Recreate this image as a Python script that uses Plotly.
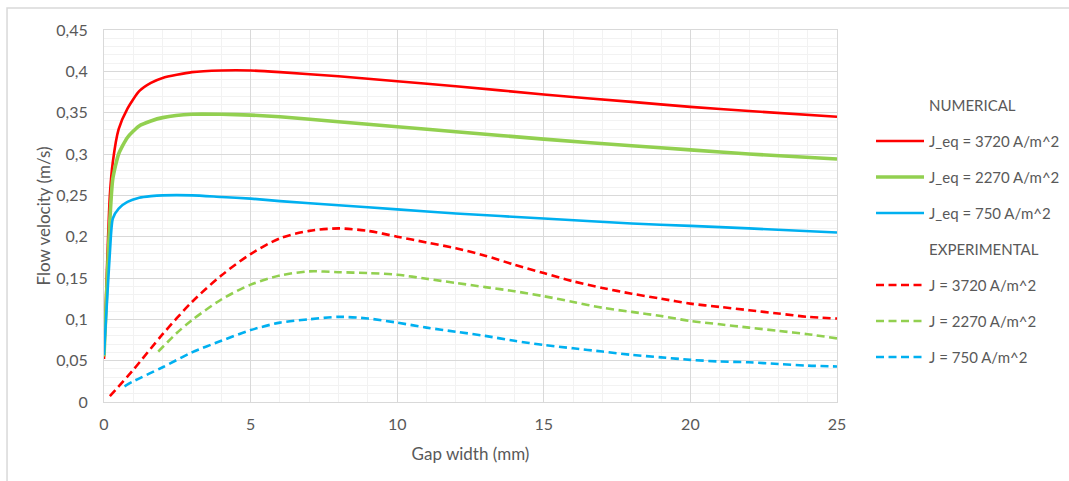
import plotly.graph_objects as go

# ---- numerical results (gap width in mm, velocity in m/s) ----
num_x = [0, 0.1, 0.2, 0.3, 0.5, 0.8, 1.2, 1.6, 2, 3, 4, 5, 6, 8, 10, 12, 15, 18, 20, 22, 25]
num_3720 = [0.052, 0.16, 0.25, 0.29, 0.33, 0.355, 0.376, 0.386, 0.392, 0.399, 0.401, 0.401, 0.399, 0.394, 0.388, 0.382, 0.372, 0.363, 0.357, 0.352, 0.345]
num_2270 = [0.055, 0.14, 0.22, 0.27, 0.30, 0.32, 0.334, 0.34, 0.344, 0.348, 0.348, 0.347, 0.345, 0.339, 0.333, 0.327, 0.318, 0.310, 0.305, 0.300, 0.294]
num_750 = [0.057, 0.12, 0.18, 0.222, 0.234, 0.242, 0.247, 0.249, 0.25, 0.25, 0.248, 0.246, 0.243, 0.238, 0.233, 0.228, 0.222, 0.216, 0.213, 0.210, 0.205]

# ---- experimental measurements ----
exp_x_3720 = [0.2, 1, 2, 3, 4, 5, 6, 7, 8, 9, 10, 11, 12, 13, 14, 15, 16, 17, 18, 19, 20, 21, 22, 23, 24, 25]
exp_3720 = [0.007, 0.039, 0.082, 0.121, 0.153, 0.179, 0.198, 0.207, 0.210, 0.207, 0.200, 0.193, 0.186, 0.177, 0.166, 0.156, 0.146, 0.138, 0.131, 0.125, 0.119, 0.115, 0.111, 0.107, 0.103, 0.101]

exp_x_2270 = [1.85, 2.5, 3, 4, 5, 6, 7, 8, 9, 10, 11, 12, 13, 14, 15, 16, 17, 18, 19, 20, 21, 22, 23, 24, 25]
exp_2270 = [0.061, 0.084, 0.099, 0.124, 0.142, 0.153, 0.158, 0.157, 0.156, 0.154, 0.149, 0.144, 0.139, 0.134, 0.128, 0.121, 0.114, 0.109, 0.104, 0.098, 0.094, 0.090, 0.086, 0.082, 0.077]

exp_x_750 = [0.7, 1, 2, 3, 4, 5, 6, 7, 8, 9, 10, 11, 12, 13, 14, 15, 16, 17, 18, 19, 20, 21, 22, 23, 24, 25]
exp_750 = [0.019, 0.025, 0.042, 0.060, 0.074, 0.087, 0.096, 0.100, 0.103, 0.101, 0.096, 0.090, 0.085, 0.080, 0.074, 0.069, 0.065, 0.061, 0.057, 0.054, 0.051, 0.049, 0.048, 0.046, 0.044, 0.043]

# ---- axis ticks ----
x_ticks = [0, 5, 10, 15, 20, 25]
x_tick_text = ["0", "5", "10", "15", "20", "25"]
y_ticks = [0, 0.05, 0.1, 0.15, 0.2, 0.25, 0.3, 0.35, 0.4, 0.45]
y_tick_text = ["0", "0,05", "0,1", "0,15", "0,2", "0,25", "0,3", "0,35", "0,4", "0,45"]

RED = "#FF0000"
GREEN = "#92D050"
BLUE = "#00B0F0"
TEXT = "#595959"
FONT = "Lato, 'Open Sans', sans-serif"

fig = go.Figure()

def header(name, group):
    fig.add_trace(go.Scatter(x=[None], y=[None], mode="lines", name=name,
                             line=dict(width=0, color="rgba(0,0,0,0)"),
                             legendgroup=group, hoverinfo="skip"))

header("NUMERICAL", "h1")
fig.add_trace(go.Scatter(x=num_x, y=num_3720, mode="lines", name="J_eq = 3720 A/m^2",
                         line=dict(color=RED, width=2.6, shape="spline", smoothing=0.6),
                         legendgroup="n1"))
fig.add_trace(go.Scatter(x=num_x, y=num_2270, mode="lines", name="J_eq = 2270 A/m^2",
                         line=dict(color=GREEN, width=3.6, shape="spline", smoothing=0.6),
                         legendgroup="n2"))
fig.add_trace(go.Scatter(x=num_x, y=num_750, mode="lines", name="J_eq = 750 A/m^2",
                         line=dict(color=BLUE, width=2.6, shape="spline", smoothing=0.6),
                         legendgroup="n3"))
header("EXPERIMENTAL", "h2")
fig.add_trace(go.Scatter(x=exp_x_3720, y=exp_3720, mode="lines", name="J = 3720 A/m^2",
                         line=dict(color=RED, width=2.6, dash="8px,4.5px", shape="spline", smoothing=0.8),
                         legendgroup="e1"))
fig.add_trace(go.Scatter(x=exp_x_2270, y=exp_2270, mode="lines", name="J = 2270 A/m^2",
                         line=dict(color=GREEN, width=2.6, dash="8px,4.5px", shape="spline", smoothing=0.8),
                         legendgroup="e2"))
fig.add_trace(go.Scatter(x=exp_x_750, y=exp_750, mode="lines", name="J = 750 A/m^2",
                         line=dict(color=BLUE, width=2.6, dash="8px,4.5px", shape="spline", smoothing=0.8),
                         legendgroup="e3"))

axis_common = dict(
    showgrid=True, gridcolor="#D9D9D9", gridwidth=1,
    showline=True, linecolor="#D9D9D9", linewidth=1, mirror=True,
    zeroline=False, ticks="",
    tickfont=dict(family=FONT, size=16, color=TEXT),
)

fig.update_layout(
    width=1069, height=481,
    margin=dict(l=104, r=232, t=30, b=79, autoexpand=False),
    paper_bgcolor="white", plot_bgcolor="white",
    font=dict(family=FONT, size=16, color=TEXT),
    xaxis=dict(range=[0, 25], tickvals=x_ticks, ticktext=x_tick_text,
               ticklabelstandoff=8,
               minor=dict(dtick=1, showgrid=True, gridcolor="#F2F2F2", gridwidth=1),
               title=dict(text="Gap width (mm)", font=dict(family=FONT, size=17, color=TEXT), standoff=15),
               **axis_common),
    yaxis=dict(range=[0, 0.45], tickvals=y_ticks, ticktext=y_tick_text,
               ticklabelstandoff=12,
               minor=dict(dtick=0.01, showgrid=True, gridcolor="#F2F2F2", gridwidth=1),
               title=dict(text="Flow velocity (m/s)", font=dict(family=FONT, size=17, color=TEXT), standoff=1),
               **axis_common),
    showlegend=True,
    legend=dict(x=1.0464, xanchor="left", y=0.842, yanchor="top",
                itemwidth=48,
                font=dict(family=FONT, size=15, color=TEXT),
                tracegroupgap=13.5, bgcolor="rgba(0,0,0,0)", borderwidth=0),
    shapes=[
        # outer chart frame (top and left edges visible)
        dict(type="rect", xref="paper", yref="paper",
             x0=-0.1323, x1=1.6, y0=-0.5, y1=1.0591,
             line=dict(color="#D9D9D9", width=1.5), fillcolor="rgba(0,0,0,0)", layer="below"),
    ],
)

fig.write_html("out.html")
